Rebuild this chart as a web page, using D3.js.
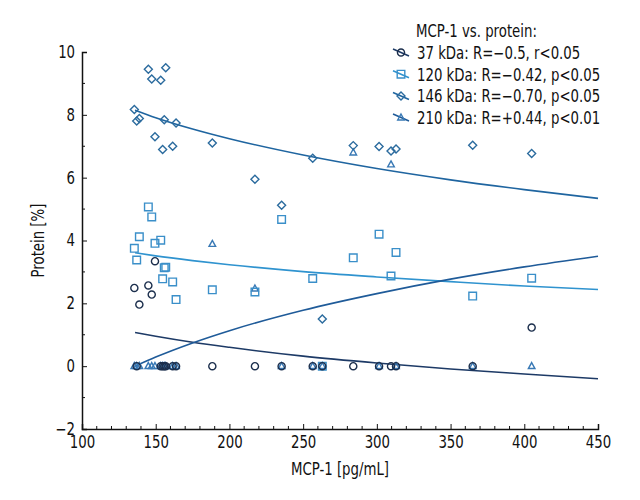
<!DOCTYPE html>
<html>
<head>
<meta charset="utf-8">
<script src="https://cdn.jsdelivr.net/npm/d3@7"></script>
<style>
  body { margin: 0; background: #fff; }
  svg text { font-family: "DejaVu Sans Condensed", "Liberation Sans Narrow", "DejaVu Sans", sans-serif; fill: #111; }
</style>
</head>
<body>
<div id="chart"></div>
<script>
// MCP-1 (x) per sample, shared by all four protein bands
const mcp = [135.5, 137.1, 138.9, 145, 147.3, 149.5, 153.4, 154.7, 155.8, 156.8, 161.5, 163.8,
             188.4, 217.3, 235.4, 256.5, 263, 284, 301.5, 309.6, 313, 365, 405];

// protein [%] per band
const kDa37  = [2.49, 0, 1.96, 2.57, 2.28, 3.34, 0, 0, 0, 0, 0, 0,
                0, 0, 0, 0, 0, 0, 0, 0, 0, 0, 1.23];
const kDa120 = [3.75, 3.38, 4.12, 5.07, 4.75, 3.91, 4.01, 2.78, 3.13, 3.15, 2.68, 2.12,
                2.43, 2.36, 4.67, 2.79, 0, 3.45, 4.20, 2.87, 3.62, 2.23, 2.80];
const kDa146 = [8.17, 7.80, 7.88, 9.45, 9.14, 7.30, 9.10, 6.90, 7.84, 9.50, 7.00, 7.74,
                7.10, 5.95, 5.12, 6.62, 1.50, 7.02, 6.99, 6.85, 6.91, 7.03, 6.77];
const kDa210 = [0, 0, 0, 0, 0, 0, 0, 0, 0, 0, 0, 0,
                3.89, 2.47, 0, 0, 0, 6.80, 0, 6.42, 0, 0, 0];

// fitted curves at these x positions
const fitX    = [136, 150, 175, 200, 250, 300, 350, 400, 450];
const fit37   = [1.07, 0.95, 0.76, 0.60, 0.32, 0.10, -0.09, -0.25, -0.40];
const fit120  = [3.61, 3.51, 3.36, 3.23, 3.01, 2.84, 2.69, 2.55, 2.44];
const fit146  = [8.15, 7.91, 7.55, 7.24, 6.72, 6.29, 5.93, 5.62, 5.34];
const fit210  = [0.00, 0.29, 0.74, 1.13, 1.78, 2.31, 2.77, 3.16, 3.50];

const legendTitle = "MCP-1 vs. protein:";
const legendLabels = [
  "37 kDa: R=\u22120.5, r<0.05",
  "120 kDa: R=\u22120.42, p<0.05",
  "146 kDa: R=\u22120.70, p<0.05",
  "210 kDa: R=+0.44, p<0.01"
];

const xTicks = [100, 150, 200, 250, 300, 350, 400, 450];
const yTicks = [-2, 0, 2, 4, 6, 8, 10];

const series = [
  { values: kDa37,  fit: fit37,  shape: "circle",   color: "#1c2f4d", line: "#1d3a66" },
  { values: kDa120, fit: fit120, shape: "square",   color: "#3a8fc9", line: "#2f93cf" },
  { values: kDa146, fit: fit146, shape: "diamond",  color: "#2b6b9e", line: "#1f65a0" },
  { values: kDa210, fit: fit210, shape: "triangle", color: "#3979b5", line: "#1f5b99" }
];

const W = 640, H = 500;
const margin = { top: 52, right: 42, bottom: 71, left: 82 };
const width = W - margin.left - margin.right;
const height = H - margin.top - margin.bottom;
const squeeze = 0.87;   // narrow the text like the condensed original

const svg = d3.select("#chart").append("svg")
  .attr("width", W).attr("height", H);

const g = svg.append("g")
  .attr("transform", `translate(${margin.left},${margin.top})`);

const x = d3.scaleLinear().domain([100, 450]).range([0, width]);
const y = d3.scaleLinear().domain([-2, 10]).range([height, 0]);

// marker paths
function markerPath(shape) {
  switch (shape) {
    case "circle":   return d3.symbol(d3.symbolCircle, 40)();
    case "square":   return "M-3.8,-3.8H3.8V3.8H-3.8Z";
    case "diamond":  return "M0,-4L4,0L0,4L-4,0Z";
    case "triangle": return "M0,-3.6L3.3,2.4H-3.3Z";
  }
}

// condensed text placed at (px, py)
function label(parent, px, py, str, anchor, rotate) {
  const t = parent.append("g")
    .attr("transform", `translate(${px},${py})` + (rotate ? ` rotate(${rotate})` : ""))
    .append("text")
    .attr("transform", `scale(${squeeze},1)`)
    .attr("font-size", 17)
    .attr("text-anchor", anchor || "start")
    .text(str);
  return t;
}

// fit curves
const line = d3.line()
  .x((d, i) => x(fitX[i]))
  .y(d => y(d))
  .curve(d3.curveMonotoneX);

series.forEach(s => {
  g.append("path")
    .attr("d", line(s.fit))
    .attr("fill", "none")
    .attr("stroke", s.line)
    .attr("stroke-width", 1.6);
});

// points (37 kDa drawn last so circles sit on top)
[series[3], series[2], series[1], series[0]].forEach(s => {
  g.append("g").selectAll("path")
    .data(s.values)
    .join("path")
    .attr("transform", (d, i) => `translate(${x(mcp[i])},${y(d)})`)
    .attr("d", markerPath(s.shape))
    .attr("fill", "none")
    .attr("stroke", s.color)
    .attr("stroke-width", 1.4);
});

// axes
const xAxis = g.append("g").attr("transform", `translate(0,${height})`);
xAxis.call(d3.axisBottom(x).tickValues(xTicks).tickSize(-5).tickPadding(7).tickFormat(d3.format("d")));
xAxis.selectAll(".tick").filter(d => d === 100).select("line").remove();
xAxis.append("g").selectAll("line")
  .data(d3.range(110, 450, 10).filter(v => v % 50 !== 0))
  .join("line")
  .attr("x1", d => x(d)).attr("x2", d => x(d))
  .attr("y1", 0).attr("y2", -3)
  .attr("stroke", "#111");

const yAxis = g.append("g");
yAxis.call(d3.axisLeft(y).tickValues(yTicks).tickSize(-5).tickPadding(8).tickFormat(d3.format("d")));
yAxis.selectAll(".tick").filter(d => d === -2).select("line").remove();
yAxis.append("g").selectAll("line")
  .data([-1, 1, 3, 5, 7, 9])
  .join("line")
  .attr("x1", 0).attr("x2", 3)
  .attr("y1", d => y(d)).attr("y2", d => y(d))
  .attr("stroke", "#111");

[xAxis, yAxis].forEach(a => {
  a.select(".domain").attr("stroke", "#111").attr("stroke-width", 1.5);
  a.selectAll(".tick line").attr("stroke", "#111");
  a.selectAll("text").attr("font-size", 17).attr("fill", "#111")
    .style("font-family", '"DejaVu Sans Condensed", "Liberation Sans Narrow", "DejaVu Sans", sans-serif');
});
xAxis.selectAll(".tick text").attr("transform", `scale(${squeeze},1)`);
yAxis.selectAll(".tick text").attr("transform", `scale(${squeeze},1)`);

// axis titles
label(g, width / 2, height + 46, "MCP-1 [pg/mL]", "middle");
label(g, -38, height / 2, "Protein [%]", "middle", -90);

// legend
const legend = svg.append("g").attr("transform", "translate(416,0)");
label(legend, 0, 37, legendTitle);

series.forEach((s, i) => {
  const yy = 59 + i * 21.7;
  const row = legend.append("g").attr("transform", `translate(0,${yy})`);
  row.append("line")
    .attr("x1", -23).attr("y1", -10)
    .attr("x2", -7).attr("y2", -3)
    .attr("stroke", s.line).attr("stroke-width", 1.6);
  row.append("path")
    .attr("transform", "translate(-15,-6.5)")
    .attr("d", markerPath(s.shape))
    .attr("fill", "none")
    .attr("stroke", s.color)
    .attr("stroke-width", 1.4);
  label(row, 1, 0, legendLabels[i]);
});
</script>
</body>
</html>
